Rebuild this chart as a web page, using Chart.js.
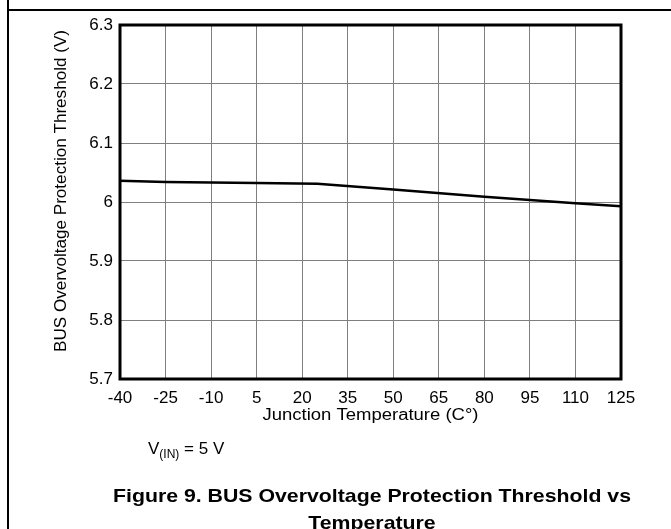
<!DOCTYPE html>
<html>
<head>
<meta charset="utf-8">
<script src="https://cdn.jsdelivr.net/npm/chart.js@4.4.1/dist/chart.umd.min.js"></script>
<style>
html,body{margin:0;padding:0;background:#fff;overflow:hidden;}
#wrap{position:relative;width:671px;height:529px;}
</style>
</head>
<body>
<div id="wrap"><canvas id="c" width="671" height="529"></canvas></div>
<script>
// Data
const temperatures = [-40, -25, -10, 5, 25, 50, 80, 110, 125];
const thresholdV   = [6.036, 6.034, 6.033, 6.032, 6.031, 6.021, 6.009, 5.998, 5.993];
const xTicks = [-40, -25, -10, 5, 20, 35, 50, 65, 80, 95, 110, 125];
const yTicks = [5.7, 5.8, 5.9, 6.0, 6.1, 6.2, 6.3];
const xTitle = 'Junction Temperature (C°)';
const yTitle = 'BUS Overvoltage Protection Threshold (V)';
const conditionMain = 'V';
const conditionSub = '(IN)';
const conditionRest = ' = 5 V';
const captionLines = ['Figure 9. BUS Overvoltage Protection Threshold vs', 'Temperature'];

const FONT = '"Liberation Sans", Arial, Helvetica, sans-serif';

// draw text horizontally stretched to a target width (reference font is wider than Arial)
function fitText(ctx, text, cx, cy, targetW) {
  const w = ctx.measureText(text).width;
  const s = targetW ? targetW / w : 1;
  ctx.save();
  ctx.translate(cx, cy);
  ctx.scale(s, 1);
  ctx.fillText(text, 0, 0);
  ctx.restore();
}

const decor = {
  id: 'decor',
  beforeDraw(chart) {
    const ctx = chart.ctx;
    ctx.save();
    ctx.fillStyle = '#fff';
    ctx.fillRect(0, 0, chart.width, chart.height);
    ctx.strokeStyle = '#000';
    ctx.lineWidth = 2;
    ctx.beginPath();
    ctx.moveTo(8, 0); ctx.lineTo(8, chart.height);
    ctx.moveTo(8, 10); ctx.lineTo(chart.width, 10);
    ctx.stroke();
    ctx.restore();
  },
  afterDraw(chart) {
    const ctx = chart.ctx;
    const a = chart.chartArea;
    ctx.save();
    ctx.strokeStyle = '#000';
    ctx.lineWidth = 3;
    ctx.strokeRect(a.left, a.top, a.right - a.left, a.bottom - a.top);
    ctx.restore();

    ctx.save();
    ctx.fillStyle = '#000';
    ctx.textAlign = 'center';
    ctx.textBaseline = 'middle';
    // y title (rotated)
    ctx.font = '16px ' + FONT;
    ctx.save();
    ctx.translate(62, 191);
    ctx.rotate(-Math.PI / 2);
    fitText(ctx, yTitle, 0, 0, 322);
    ctx.restore();
    // x title
    ctx.textBaseline = 'alphabetic';
    ctx.font = '16px ' + FONT;
    fitText(ctx, xTitle, (a.left + a.right) / 2, 420, 216);

    // condition text
    ctx.textAlign = 'left';
    let x = 148;
    const base = 454;
    ctx.font = '17px ' + FONT;
    ctx.fillText(conditionMain, x, base);
    x += ctx.measureText(conditionMain).width;
    ctx.font = '12px ' + FONT;
    ctx.fillText(conditionSub, x, base + 4);
    x += ctx.measureText(conditionSub).width;
    ctx.font = '17px ' + FONT;
    ctx.fillText(conditionRest, x, base);

    // caption
    ctx.textAlign = 'center';
    ctx.font = 'bold 19px ' + FONT;
    fitText(ctx, captionLines[0], 372, 502, 518);
    const w0 = ctx.measureText(captionLines[0]).width;
    const s = 518 / w0;
    fitText(ctx, captionLines[1], 372, 529, ctx.measureText(captionLines[1]).width * s);
    ctx.restore();
  }
};

new Chart(document.getElementById('c'), {
  type: 'line',
  data: {
    labels: temperatures,
    datasets: [{
      data: temperatures.map((t, i) => ({x: t, y: thresholdV[i]})),
      borderColor: '#000',
      borderWidth: 2.5,
      pointRadius: 0,
      tension: 0,
      fill: false
    }]
  },
  options: {
    responsive: false,
    animation: false,
    devicePixelRatio: 1,
    layout: {padding: {left: 0, top: 25, right: 50, bottom: 100}},
    plugins: {legend: {display: false}, tooltip: {enabled: false}, title: {display: false}},
    scales: {
      x: {
        type: 'linear',
        min: -40, max: 125,
        afterBuildTicks(scale) { scale.ticks = xTicks.map(v => ({value: v})); },
        afterFit(scale) { scale.height = 50; },
        grid: {color: '#7f7f7f', lineWidth: 1, drawTicks: false},
        border: {display: false},
        ticks: {color: '#000', font: {size: 17, family: FONT}, padding: 9, maxRotation: 0, autoSkip: false},
        title: {display: false, text: xTitle}
      },
      y: {
        type: 'linear',
        min: 5.7, max: 6.3,
        afterBuildTicks(scale) { scale.ticks = yTicks.map(v => ({value: v})); },
        afterFit(scale) { scale.width = 120; },
        grid: {color: '#7f7f7f', lineWidth: 1, drawTicks: false},
        border: {display: false},
        ticks: {color: '#000', font: {size: 17, family: FONT}, padding: 7,
          callback: v => (Math.round(v * 10) / 10).toString()},
        title: {display: false, text: yTitle}
      }
    }
  },
  plugins: [decor]
});
</script>
</body>
</html>
